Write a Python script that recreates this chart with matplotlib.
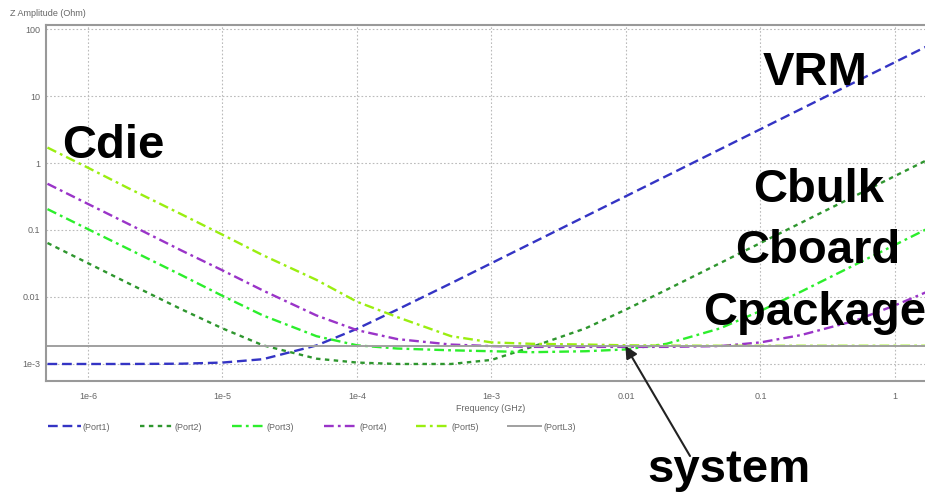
import matplotlib
matplotlib.use("Agg")
import matplotlib.pyplot as plt

plt.rcParams['font.family'] = ['Liberation Sans', 'DejaVu Sans']
plt.rcParams['lines.scale_dashes'] = False

# frecuencias (GHz) y amplitudes (Ohm)
freq = [5e-7, 1e-6, 2e-6, 5e-6, 1e-5, 2e-5, 5e-5, 1e-4, 2e-4, 5e-4, 1e-3,
        2e-3, 5e-3, 1e-2, 2e-2, 5e-2, 0.1, 0.2, 0.5, 1, 2]

port1 = [1.0e-3, 1.0e-3, 1.0e-3, 1.01e-3, 1.05e-3, 1.18e-3, 1.89e-3, 3.35e-3, 6.5e-3,
         0.016, 0.032, 0.064, 0.16, 0.32, 0.64, 1.6, 3.2, 6.4, 16, 32, 64]
port2 = [0.064, 0.032, 0.016, 6.5e-3, 3.4e-3, 1.9e-3, 1.2e-3, 1.05e-3, 1.0e-3,
         1.0e-3, 1.15e-3, 1.8e-3, 3.4e-3, 6.5e-3, 0.0128, 0.032, 0.064, 0.128,
         0.32, 0.64, 1.28]
port3 = [0.205, 0.103, 0.052, 0.021, 0.0104, 5.3e-3, 2.6e-3, 1.9e-3, 1.7e-3,
         1.6e-3, 1.55e-3, 1.5e-3, 1.55e-3, 1.65e-3, 2.0e-3, 3.4e-3, 6.2e-3,
         0.012, 0.03, 0.06, 0.12]
port4 = [0.49, 0.245, 0.123, 0.049, 0.025, 0.0125, 5.3e-3, 3.2e-3, 2.35e-3,
         1.95e-3, 1.85e-3, 1.8e-3, 1.8e-3, 1.8e-3, 1.8e-3, 1.85e-3, 2.1e-3,
         2.7e-3, 4.4e-3, 7.5e-3, 0.0135]
port5 = [1.7, 0.85, 0.42, 0.17, 0.085, 0.042, 0.018, 8.5e-3, 5.0e-3, 2.6e-3,
         2.1e-3, 2.0e-3, 1.95e-3, 1.9e-3, 1.88e-3, 1.87e-3, 1.87e-3, 1.87e-3,
         1.87e-3, 1.87e-3, 1.87e-3]
portL3 = [1.86e-3] * len(freq)

series = [port1, port2, port3, port4, port5, portL3]
labels = ['(Port1)', '(Port2)', '(Port3)', '(Port4)', '(Port5)', '(PortL3)']
colors = ['#3434c4', '#2e962e', '#2cee2c', '#9a34c8', '#9aee10', '#a0a0a0']
dashes = [(7, 3.5), (3.2, 3.2), (7, 3, 2, 3), (7, 3, 2, 3), (7, 3, 2, 3), None]

xticks = [1e-6, 1e-5, 1e-4, 1e-3, 1e-2, 0.1, 1]
xticklabels = ['1e-6', '1e-5', '1e-4', '1e-3', '0.01', '0.1', '1']
yticks = [1e-3, 1e-2, 0.1, 1, 10, 100]
yticklabels = ['1e-3', '0.01', '0.1', '1', '10', '100']

W, H = 925, 494
fig = plt.figure(figsize=(W / 100, H / 100), dpi=100)
ax = fig.add_axes([46 / W, 1 - 381 / H, 1 - 46 / W, (381 - 25) / H])

handles = []
for y, lab, c, d in zip(series, labels, colors, dashes):
    ln, = ax.plot(freq, y, color=c, lw=1.7, label=lab)
    if d is not None:
        ln.set_dashes(d)
    else:
        ln.set_linewidth(1.4)
    handles.append(ln)

ax.set_xscale('log')
ax.set_yscale('log')
ax.set_xlim(10 ** -6.312, 10 ** 0.223)
ax.set_ylim(10 ** -3.254, 10 ** 2.06)
ax.set_xticks(xticks)
ax.set_xticklabels(xticklabels)
ax.set_yticks(yticks)
ax.set_yticklabels(yticklabels)
ax.minorticks_off()
ax.tick_params(length=0, labelsize=6.5, labelcolor='#666666')
ax.tick_params(axis='x', pad=8)
ax.tick_params(axis='y', pad=4)
ax.grid(True, which='major', color='#bbbbbb', linestyle=(0, (1.2, 1.5)), lw=0.8)

for s in ['left', 'top', 'bottom']:
    ax.spines[s].set_color('#999999')
    ax.spines[s].set_linewidth(1.5)
ax.spines['right'].set_visible(False)

fig.text(10 / W, 1 - 14 / H, 'Z Amplitude (Ohm)', fontsize=6.5, color='#666666', va='center')
fig.text(491 / W, 1 - 408 / H, 'Frequency (GHz)', fontsize=6.5, color='#666666',
         ha='center', va='center')

fig.legend(handles=handles, loc='center left', bbox_to_anchor=(40 / W, 1 - 427 / H),
           ncol=6, frameon=False, fontsize=6.5, handlelength=3.6, handletextpad=0.25,
           columnspacing=3.3, labelcolor='#666666')

# etiquetas grandes
big = dict(fontsize=34, fontweight='bold', color='black', va='baseline')
fig.text(763 / W, 1 - 85 / H, 'VRM', **big)
fig.text(62 / W, 1 - 158 / H, 'Cdie', **big)
fig.text(753 / W, 1 - 202 / H, 'Cbulk', **big)
fig.text(735 / W, 1 - 263 / H, 'Cboard', **big)
fig.text(703 / W, 1 - 325 / H, 'Cpackage', **big)
fig.text(647 / W, 1 - 482 / H, 'system', **big)

ax.annotate('', xy=(0.0099, 1.86e-3), xytext=(690 / W, 1 - 456 / H),
            textcoords='figure fraction', annotation_clip=False,
            arrowprops=dict(arrowstyle='-|>', color='#222222', lw=1.5,
                            mutation_scale=18, shrinkA=0, shrinkB=0))

fig.savefig('out.png', dpi=100)
